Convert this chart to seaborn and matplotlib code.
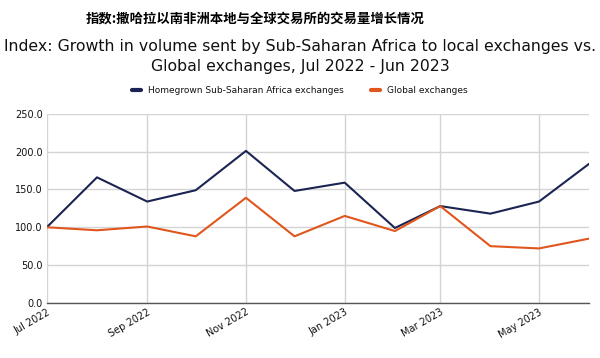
import matplotlib
matplotlib.use("Agg")
import matplotlib.pyplot as plt
import matplotlib.dates as mdates
import matplotlib.ticker as mticker
import pandas as pd
import seaborn as sns

# Data
lstMonths = pd.date_range("2022-07-01", "2023-06-01", freq="MS")
lstHomegrown = [100, 166, 134, 149, 201, 148, 159, 99, 128, 118, 134, 184]
lstGlobal = [100, 96, 101, 88, 139, 88, 115, 95, 128, 75, 72, 85]
lstSeries = ["Homegrown Sub-Saharan Africa exchanges", "Global exchanges"]
lstColors = ["#1b2452", "#e0561c"]

dfData = pd.DataFrame({
	"month": list(lstMonths) * 2,
	"value": lstHomegrown + lstGlobal,
	"series": [lstSeries[0]] * 12 + [lstSeries[1]] * 12,
})

sns.set_style("white")
plt.rcParams["font.family"] = ["DejaVu Sans", "Noto Sans CJK SC"]
plt.rcParams["text.color"] = "#111111"

fig = plt.figure(figsize=(6.0, 3.58), dpi=100)
ax = fig.add_axes([0.078, 0.154, 0.904, 0.528])

sns.lineplot(data=dfData, x="month", y="value", hue="series",
	palette=lstColors, linewidth=1.5, ax=ax, legend=False)

ax.set_xlim(lstMonths[0], lstMonths[-1])
ax.set_ylim(0, 250)
ax.yaxis.set_major_locator(mticker.MultipleLocator(50))
ax.yaxis.set_major_formatter(mticker.FormatStrFormatter("%.1f"))
ax.xaxis.set_major_locator(mdates.MonthLocator(bymonth=[1, 3, 5, 7, 9, 11]))
ax.xaxis.set_major_formatter(mdates.DateFormatter("%b %Y"))
ax.set_xlabel("")
ax.set_ylabel("")
ax.grid(True, color="#d4d4d4", linewidth=1)
ax.tick_params(axis="both", labelsize=7, length=0, pad=3, labelcolor="#111111")
plt.setp(ax.get_xticklabels(), rotation=30, ha="right", rotation_mode="anchor")
for sSide in ["top", "right", "left"]:
	ax.spines[sSide].set_visible(False)
ax.spines["bottom"].set_color("#555555")
ax.spines["bottom"].set_linewidth(1)

# Titles
fig.text(0.425, 0.948, "指数:撒哈拉以南非洲本地与全球交易所的交易量增长情况",
	ha="center", va="center", fontsize=9.6, fontweight="bold", color="black",
	family=["Noto Sans CJK SC", "DejaVu Sans"])
fig.text(0.5, 0.842, "Index: Growth in volume sent by Sub-Saharan Africa to local exchanges vs.\nGlobal exchanges, Jul 2022 - Jun 2023",
	ha="center", va="center", fontsize=11.3, linespacing=1.4, color="#111111")

# Legend
lstHandles = [plt.Line2D([], [], color=c, linewidth=3) for c in lstColors]
fig.legend(lstHandles, lstSeries, loc="center", bbox_to_anchor=(0.5, 0.746),
	ncol=2, frameon=False, fontsize=6.5, handlelength=1.0, columnspacing=3)

fig.savefig("out.png", dpi=100)
